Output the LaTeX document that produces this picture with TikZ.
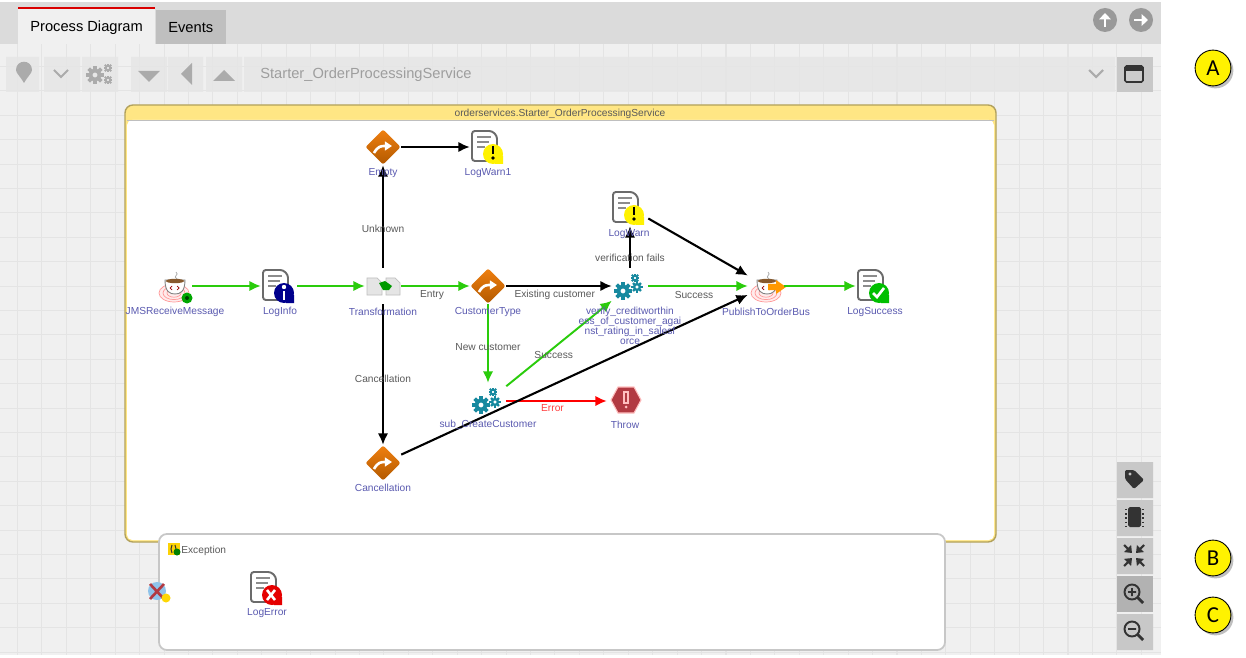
\documentclass[tikz,border=0pt]{standalone}
\usepackage{fontspec}
\setmainfont{Liberation Sans}
\newfontfamily\markerfont{Carlito}
\usetikzlibrary{arrows.meta}
\usetikzlibrary{shadows}
\definecolor{gridgray}{HTML}{E4E4E4}
\definecolor{panelgray}{HTML}{F0F0F0}
\definecolor{barlight}{HTML}{E6E6E6}
\definecolor{barmid}{HTML}{C8C8C8}
\definecolor{iconink}{HTML}{333333}
\definecolor{tealgear}{HTML}{17899F}
\definecolor{flowgreen}{HTML}{2ACC0C}
\definecolor{tasktext}{HTML}{5A5AB0}
\definecolor{edgetext}{HTML}{5A5A5A}
\definecolor{lanetitle}{HTML}{FFE684}
\definecolor{throwred}{HTML}{B23A42}
\definecolor{eventblue}{HTML}{8FC3EA}
\tikzset{
  taskbox/.style={rectangle,inner sep=0pt,minimum size=20.4pt},
  tasklabel/.style={text=tasktext,font=\fontsize{5.8}{5.7}\selectfont,inner sep=0pt,align=center},
  edgelabel/.style={text=edgetext,font=\fontsize{5.8}{7}\selectfont,inner sep=0pt},
  tablabel/.style={text=black,font=\fontsize{8.35}{10}\selectfont,inner sep=0pt},
  goflow/.style={-{Latex[length=6.5pt,width=6pt]},draw=flowgreen,line width=1.1pt},
  blackflow/.style={-{Latex[length=6.5pt,width=6pt]},draw=black,line width=1.2pt},
  redflow/.style={-{Latex[length=6.5pt,width=6pt]},draw=red,line width=1.1pt},
  toolbtn/.style={fill=barmid,draw=none},
  marker/.style={circle,draw=black,fill=yellow,line width=.5pt,minimum size=20.4pt,inner sep=0pt,
    font=\markerfont\fontsize{13}{14}\selectfont,drop shadow={shadow xshift=1.4pt,shadow yshift=-1.4pt,opacity=.5}},
  logicon/.pic={
    \draw[draw=black!58,fill=white,line width=1.1pt,rounded corners=1.6pt] (-16,-16) -- (4,-16) -- (9,-11) -- (9,14) -- (-16,14) -- cycle;
    \draw[black!45,line width=.7pt] (-11,-10) -- (3,-10) (-11,-5) -- (1,-5) (-11,0) -- (-3,0);
    \fill[#1] (5,7) circle (10);
    \fill[#1] (5,9) -- (15,9) -- (15,17) -- (7,17) -- cycle;
  },
  gearicon/.pic={
    \draw[line width=#1*0.27pt] (0,0) circle ({0.58*#1});
    \foreach \a in {0,45,...,315} \draw[line width=#1*0.26pt] (\a:{0.7*#1}) -- (\a:{1.12*#1});
  },
  diamondicon/.pic={
    \shade[top color=orange!75!brown,bottom color=orange!70!black,rounded corners=1.2pt] (0,-17.5) -- (17.5,0) -- (0,17.5) -- (-17.5,0) -- cycle;
    \draw[white,line width=1.5pt,-{Triangle[length=4pt,width=5pt]}] (-9,6) .. controls (-5,-1) and (-2,-1) .. (9,-1);
  },
  cupicon/.pic={
    \foreach \r in {15,11,7} \draw[red!40,line width=.4pt,fill=red!8] (-1,7) ellipse ({\r} and {\r*.6});
    \draw[black!35,line width=.4pt] (1,-14) .. controls (5,-11) and (-3,-10) .. (2,-7);
    \draw[black!50,fill=white,line width=.5pt] (-10,-6) -- (10,-6) .. controls (10,6) and (5,8) .. (0,8) .. controls (-5,8) and (-10,6) .. (-10,-6) -- cycle;
    \fill[brown!70!black] (0,-5) ellipse (9 and 2.2);
    \draw[red!60!black,line width=.4pt] (-3,0) -- (-5,2) -- (-3,4) (2,0) -- (4,2) -- (2,4);
  },
}
\begin{document}
\begin{tikzpicture}[x=0.02cm,y=-0.02cm]
  \useasboundingbox (0,0) rectangle (1246,658);
  \fill[white] (0,0) rectangle (1246,658);
  % canvas
  \fill[panelgray] (0,44) rectangle (1161,655);
  \foreach \k in {0,...,46} \draw[gridgray,line width=.6pt] ({17.5+24.43*\k},44) -- ({17.5+24.43*\k},655);
  \foreach \k in {0,...,24} \draw[gridgray,line width=.6pt] (0,{66.5+24.4*\k}) -- (1161,{66.5+24.4*\k});
  % tab bar
  \fill[black!14] (0,2) rectangle (1161,44);
  \fill[panelgray] (18,8) rectangle (155,44);
  \draw[red!85!black,line width=1.1pt] (18,8) -- (155,8);
  \fill[black!25] (156,10) rectangle (226,44);
  \node[tablabel,anchor=west] (tabprocess) at (30,28) {Process Diagram};
  \node[tablabel,anchor=west] (tabevents) at (168,28) {Events};
  \fill[black!40] (1105,20) circle (12) (1141,20) circle (12);
  \draw[white,line width=1.6pt,-{Triangle[length=3.6pt,width=6.5pt]}] (1105,27) -- (1105,13);
  \draw[white,line width=1.6pt,-{Triangle[length=3.6pt,width=6.5pt]}] (1134,20) -- (1148,20);
  % tool bar
  \fill[barlight,opacity=.85] (6,57) rectangle (39,92) (44,57) rectangle (80,92) (82,57) rectangle (118,92)
    (131,57) rectangle (167,92) (168,57) rectangle (203,92) (206,57) rectangle (242,92) (244,57) rectangle (1115,92);
  \fill[barmid] (1117,57) rectangle (1153,92);
  \fill[black!33] (24,83) .. controls (20,76) and (16,73) .. (16,70) .. controls (16,59) and (32,59) .. (32,70) .. controls (32,73) and (28,76) .. (24,83) -- cycle;
  \draw[black!33,line width=1.2pt] (54,70) -- (61,77) -- (68,70) (1089,70) -- (1096,77) -- (1103,70);
  \begin{scope}[black!33]
    \pic[draw=black!33] at (95,75) {gearicon=8};
    \pic[draw=black!33] at (108,68) {gearicon=4};
    \pic[draw=black!33] at (108,80) {gearicon=4};
  \end{scope}
  \fill[black!33] (138,71) -- (160,71) -- (149,82) -- cycle;
  \fill[black!33] (192,63) -- (192,85) -- (181,74) -- cycle;
  \fill[black!33] (213,81) -- (235,81) -- (224,70) -- cycle;
  \node[tablabel,text=black!38,anchor=west] (startertitle) at (260,75) {Starter\_OrderProcessingService};
  \draw[iconink,fill=black!20,line width=.9pt,rounded corners=.8pt] (1125,66) rectangle (1143,82);
  \fill[iconink] (1125,66) rectangle (1143,71);
  % main lane
  \draw[draw=black!30!lanetitle,fill=lanetitle,line width=.8pt,rounded corners=4.5pt] (125,105) rectangle (996,542);
  \fill[white,rounded corners=3pt] (127,120) rectangle (994,540);
  \draw[black!25,line width=.5pt] (127,120) -- (994,120);
  \node[edgelabel] (lanetitle) at (560,113.5) {orderservices.Starter\_OrderProcessingService};
  % exception lane
  \draw[draw=black!22,fill=white,line width=1pt,rounded corners=4.5pt] (159,534) rectangle (945,650);
  \fill[yellow!70!orange] (168,543) rectangle (180,555);
  \draw[black!80,line width=.6pt] (172,545) -- (171,549) -- (172,553) (175,545) -- (176,549) -- (175,553);
  \fill[green!50!black] (177,552) circle (3.5);
  \node[edgelabel,anchor=west] (exceptionlabel) at (181,551) {Exception};
  % tasks
  \node[taskbox] (jmsreceive) at (174,286) {};
  \node[taskbox] (loginfo) at (279,286) {};
  \node[taskbox] (transformation) at (383,286) {};
  \node[taskbox] (customertype) at (488,286) {};
  \node[taskbox] (verifycredit) at (630,286) {};
  \node[taskbox] (publishbus) at (766,286) {};
  \node[taskbox] (logsuccess) at (874,286) {};
  \node[taskbox] (emptyroute) at (383,147) {};
  \node[taskbox] (logwarnone) at (488,147) {};
  \node[taskbox] (logwarn) at (630,208) {};
  \node[taskbox] (createcustomer) at (488,401) {};
  \node[taskbox] (throwerror) at (625,401) {};
  \node[taskbox] (cancelroute) at (383,463) {};
  \node[taskbox] (logerror) at (267,588) {};
  % icons
  \pic at (175,286) {cupicon};
  \fill[green!65!black] (187,298) circle (5.5);
  \fill[green!25!black] (187,298) circle (2);
  \pic at (767,286) {cupicon};
  \fill[orange!80!yellow] (768,284) -- (776,284) -- (776,280) -- (786,287) -- (776,294) -- (776,290) -- (768,290) -- cycle;
  \pic at (279,286) {logicon=blue!55!black};
  \fill[white] (284,287) circle (2.2);
  \draw[white,line width=1.6pt] (284,291) -- (284,300);
  \pic at (874,286) {logicon=green!75!black};
  \draw[white,line width=1.5pt] (873,293) -- (877,297) -- (884,288);
  \pic at (488,147) {logicon=yellow};
  \draw[black,line width=1.5pt] (493,146) -- (493,154);
  \fill[black] (493,158) circle (1.9);
  \pic at (629,208) {logicon=yellow};
  \draw[black,line width=1.5pt] (634,207) -- (634,215);
  \fill[black] (634,219) circle (1.9);
  \pic at (267,588) {logicon=red!90!black};
  \draw[white,line width=1.5pt] (267,590) -- (275,600) (275,590) -- (267,600);
  \pic at (383,147) {diamondicon};
  \pic at (488,286) {diamondicon};
  \pic at (383,463) {diamondicon};
  \begin{scope}[tealgear]
    \pic[draw=tealgear] at (623,291) {gearicon=8};
    \pic[draw=tealgear] at (637,287) {gearicon=5};
    \pic[draw=tealgear] at (635,278) {gearicon=4};
    \pic[draw=tealgear] at (481,405) {gearicon=8};
    \pic[draw=tealgear] at (495,402) {gearicon=5};
    \pic[draw=tealgear] at (493,392) {gearicon=4};
  \end{scope}
  \draw[black!25,fill=black!10,line width=.4pt] (367,278) -- (377,278) -- (382,283) -- (382,295) -- (367,295) -- cycle;
  \draw[black!25,fill=black!10,line width=.4pt] (386,278) -- (395,278) -- (400,283) -- (400,295) -- (386,295) -- cycle;
  \fill[green!60!black] (379,283) -- (385,281) -- (392,286) -- (389,290) -- (383,290) -- cycle;
  \draw[red!25,fill=throwred,line width=.6pt] (611,400) -- (618,387) -- (634,387) -- (641,400) -- (634,413) -- (618,413) -- cycle;
  \draw[red!25,line width=.7pt] (624,392) rectangle (628,403);
  \fill[red!25] (626,407) circle (1.5);
  \fill[eventblue] (157,591) circle (9);
  \draw[throwred,line width=1.5pt] (150,584) -- (164,599) (164,584) -- (150,599);
  \fill[yellow!75!orange] (166,598) circle (4.5);
  % connectors
  \draw[goflow] (jmsreceive) -- (loginfo);
  \draw[goflow] (loginfo) -- (transformation);
  \draw[goflow] (transformation) -- node[edgelabel,pos=.45,yshift=-5pt] (entrylabel) {Entry} (customertype);
  \draw[blackflow] (customertype) -- node[edgelabel,pos=.46,yshift=-5pt] (existinglabel) {Existing customer} (verifycredit);
  \draw[goflow] (verifycredit) -- node[edgelabel,pos=.46,yshift=-4.9pt] (successlabel) {Success} (publishbus);
  \draw[goflow] (publishbus) -- (logsuccess);
  \draw[blackflow] (emptyroute) -- (logwarnone);
  \draw[blackflow] (transformation) -- node[edgelabel,pos=.38] (unknownlabel) {Unknown} (emptyroute);
  \draw[blackflow] (transformation) -- node[edgelabel,pos=.53] (cancellabel) {Cancellation} (cancelroute);
  \draw[goflow] (customertype) -- node[edgelabel,pos=.53,yshift=-.5pt] (newlabel) {New customer} (createcustomer);
  \draw[goflow] (createcustomer) -- node[edgelabel,pos=.45,yshift=-3.9pt] (createdlabel) {Success} (verifycredit);
  \draw[redflow] (createcustomer) -- node[edgelabel,text=red!75,pos=.46,yshift=-3.8pt] (errorlabel) {Error} (throwerror);
  \draw[blackflow] (verifycredit) -- node[edgelabel,pos=.24] (failslabel) {verification fails} (logwarn);
  \draw[blackflow] (logwarn) -- (publishbus);
  \draw[blackflow] (cancelroute) -- (publishbus.206);
  % task labels
  \node[tasklabel] (jmslabel) at (175,312) {JMSReceiveMessage};
  \node[tasklabel] (infolabel) at (280,312) {LogInfo};
  \node[tasklabel] (translabel) at (383,312) {Transformation};
  \node[tasklabel] (typelabel) at (488,312) {CustomerType};
  \node[tasklabel,anchor=north] (verifylabel) at (630,307) {verify\_creditworthin\\ess\_of\_customer\_agai\\nst\_rating\_in\_salesf\\orce};
  \node[tasklabel] (publishlabel) at (766,312) {PublishToOrderBus};
  \node[tasklabel] (successtask) at (875,312) {LogSuccess};
  \node[tasklabel] (emptylabel) at (383,173) {Empty};
  \node[tasklabel] (warnonelabel) at (488,173) {LogWarn1};
  \node[tasklabel] (warnlabel) at (629,234) {LogWarn};
  \node[tasklabel] (createlabel) at (488,425) {sub\_CreateCustomer};
  \node[tasklabel] (throwlabel) at (625,425) {Throw};
  \node[tasklabel] (canceltask) at (383,488) {Cancellation};
  \node[tasklabel] (errorlog) at (267,613) {LogError};
  % side buttons
  \fill[barmid] (1117,462) rectangle (1153,498) (1117,500) rectangle (1153,536) (1117,538) rectangle (1153,574) (1117,614) rectangle (1153,650);
  \fill[black!30] (1117,576) rectangle (1153,612);
  \fill[iconink,rounded corners=.8pt,even odd rule] (1125,470) -- (1134,470) -- (1144,480) -- (1134,489) -- (1125,479) -- cycle (1130,474) circle (1.8);
  \fill[iconink,rounded corners=1pt] (1128,507) rectangle (1141,527);
  \draw[iconink,line width=.7pt,dash pattern=on .8pt off 1.6pt] (1126,509) -- (1126,527) (1143,509) -- (1143,527);
  \draw[iconink,line width=1.2pt,-{Triangle[length=3.6pt,width=5.5pt]}] (1124,545) -- (1132,553);
  \draw[iconink,line width=1.2pt,-{Triangle[length=3.6pt,width=5.5pt]}] (1144,545) -- (1136,553);
  \draw[iconink,line width=1.2pt,-{Triangle[length=3.6pt,width=5.5pt]}] (1124,566) -- (1132,558);
  \draw[iconink,line width=1.2pt,-{Triangle[length=3.6pt,width=5.5pt]}] (1144,566) -- (1136,558);
  \draw[iconink,line width=1.1pt] (1132,592) circle (7.5) (1128,592) -- (1136,592) (1132,588) -- (1132,596);
  \draw[iconink,line width=1.6pt] (1137.5,597.5) -- (1143,603);
  \draw[iconink,line width=1.1pt] (1132,629) circle (7.5) (1128,629) -- (1136,629);
  \draw[iconink,line width=1.6pt] (1137.5,634.5) -- (1143,640);
  % callouts
  \node[marker] (markera) at (1213,68) {A};
  \node[marker] (markerb) at (1213,558) {B};
  \node[marker] (markerc) at (1213,615) {C};
\end{tikzpicture}
\end{document}
